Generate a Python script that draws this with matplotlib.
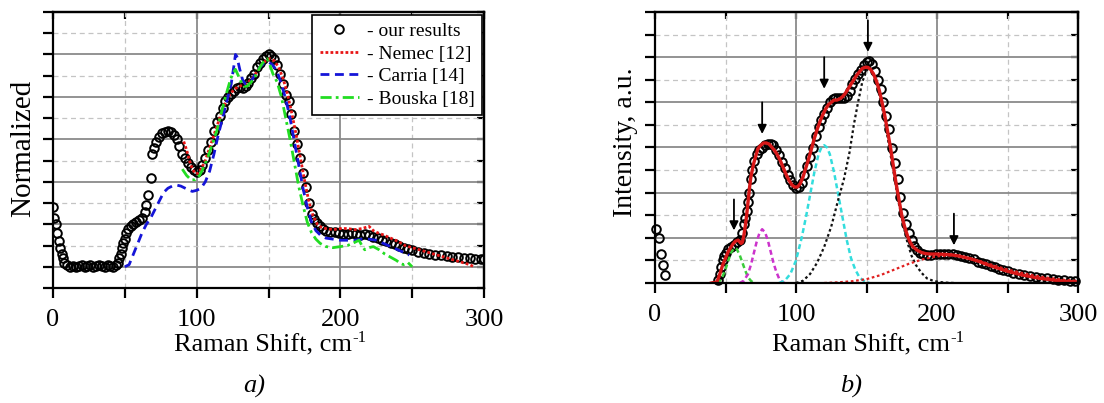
import matplotlib
matplotlib.use("Agg")
import matplotlib.pyplot as plt
from matplotlib.ticker import MultipleLocator

plt.rcParams['font.family'] = ['Liberation Serif', 'DejaVu Serif']

# ---------------- panel a) data ----------------
ours_a_x = [0, 1, 2, 3, 4, 5, 6, 7, 8, 10, 12, 14, 16, 18, 20, 22, 24, 26, 28, 30, 32, 34, 36, 38, 40, 42, 44,
            45, 46, 47, 48, 49, 50, 51, 52, 54, 56, 58, 60, 62, 64, 65, 66, 68, 69, 70, 72, 74, 76, 78, 80,
            82, 84, 86, 88, 90, 92, 94, 96, 98, 100, 102, 104, 106, 108, 110, 112, 114, 116, 118, 120, 122,
            124, 126, 128, 130, 132, 134, 136, 138, 140, 142, 144, 146, 148, 150, 152, 154, 156, 158, 160,
            162, 164, 166, 168, 170, 172, 174, 176, 178, 180, 182, 184, 186, 188, 190, 193, 196, 199, 202,
            205, 208, 211, 214, 217, 220, 223, 226, 229, 232, 235, 238, 241, 244, 247, 250, 254, 258, 262,
            266, 270, 274, 278, 282, 286, 290, 294, 298, 300]
ours_a_y = [0.28, 0.23, 0.20, 0.16, 0.12, 0.09, 0.06, 0.04, 0.02, 0.01, 0.0, 0.005, 0.0, 0.005, 0.01, 0.0,
            0.005, 0.01, 0.0, 0.005, 0.01, 0.005, 0.0, 0.01, 0.005, 0.0, 0.01,
            0.02, 0.04, 0.06, 0.09, 0.11, 0.13, 0.16, 0.18, 0.19, 0.20, 0.21, 0.22, 0.23, 0.26, 0.29, 0.34,
            0.42, 0.53, 0.56, 0.59, 0.61, 0.63, 0.635, 0.64,
            0.635, 0.62, 0.60, 0.57, 0.53, 0.51, 0.49, 0.47, 0.455, 0.445, 0.455, 0.48, 0.51, 0.55, 0.59,
            0.64, 0.68, 0.71, 0.75, 0.78, 0.80,
            0.815, 0.83, 0.84, 0.845, 0.84, 0.85, 0.865, 0.89, 0.91, 0.94, 0.96, 0.98, 0.995, 1.0, 0.995,
            0.98, 0.95, 0.91, 0.86,
            0.81, 0.78, 0.72, 0.64, 0.58, 0.51, 0.44, 0.375, 0.30, 0.25, 0.225, 0.205, 0.19, 0.18, 0.17,
            0.165, 0.165, 0.16, 0.155,
            0.155, 0.16, 0.155, 0.15, 0.155, 0.15, 0.14, 0.135, 0.125, 0.12, 0.11, 0.105, 0.10, 0.09, 0.085,
            0.08, 0.07, 0.065, 0.06,
            0.055, 0.055, 0.05, 0.045, 0.045, 0.04, 0.04, 0.035, 0.035, 0.035]

nemec_x = [91, 93, 95, 97, 99, 101, 103, 106, 109, 112, 115, 118, 121, 124, 127, 130, 133, 136, 139, 142,
           145, 148, 151, 154, 157, 160, 163, 166, 169, 172, 175, 178, 181, 184, 187, 190, 195, 200, 205,
           210, 215, 220, 223, 226, 230, 235, 240, 245, 250, 255, 260, 265, 270, 275, 280, 285, 290, 293]
nemec_y = [0.59, 0.55, 0.50, 0.46, 0.44, 0.44, 0.46, 0.50, 0.56, 0.62, 0.68, 0.74, 0.79, 0.82, 0.84, 0.85,
           0.86, 0.87, 0.89, 0.92, 0.95, 0.97, 0.98, 0.97, 0.94, 0.89, 0.82, 0.73, 0.63, 0.52, 0.41, 0.31,
           0.24, 0.20, 0.185, 0.18, 0.175, 0.18, 0.18, 0.175, 0.18, 0.19, 0.17, 0.16, 0.15, 0.135, 0.12,
           0.10, 0.09, 0.08, 0.07, 0.06, 0.05, 0.04, 0.03, 0.02, 0.01, 0.0]

carria_x = [50, 53, 56, 59, 62, 65, 68, 71, 74, 77, 80, 83, 86, 89, 92, 95, 97, 100, 103, 106, 109, 112,
            115, 118, 121, 124, 126, 127, 128, 130, 132, 134, 136, 138, 141, 144, 147, 150, 153, 156, 159,
            162, 165, 168, 171, 174, 177, 180, 183, 186, 190, 195, 200, 205, 210, 215, 220, 225, 230, 235,
            240, 245, 248]
carria_y = [0.0, 0.01, 0.06, 0.11, 0.16, 0.20, 0.23, 0.27, 0.31, 0.35, 0.37, 0.38, 0.385, 0.38, 0.37, 0.36,
            0.355, 0.36, 0.37, 0.40, 0.45, 0.53, 0.62, 0.70, 0.78, 0.86, 0.95, 1.0, 0.99, 0.93, 0.88, 0.86,
            0.86, 0.875, 0.91, 0.94, 0.96, 0.965, 0.95, 0.92, 0.86, 0.79, 0.70, 0.59, 0.48, 0.37, 0.28, 0.21,
            0.17, 0.15, 0.135, 0.13, 0.125, 0.125, 0.125, 0.13, 0.13, 0.125, 0.11, 0.095, 0.08, 0.065, 0.055]

bouska_x = [90, 93, 96, 99, 102, 105, 108, 111, 114, 117, 120, 123, 125, 127, 129, 131, 133, 135, 138, 141,
            144, 147, 149, 151, 153, 156, 159, 162, 165, 168, 171, 174, 177, 180, 183, 186, 190, 195, 200,
            205, 210, 213, 215, 217, 220, 223, 227, 231, 235, 239, 242, 244, 247, 250]
bouska_y = [0.46, 0.43, 0.41, 0.41, 0.43, 0.47, 0.52, 0.58, 0.64, 0.72, 0.80, 0.87, 0.91, 0.93, 0.90, 0.87,
            0.85, 0.85, 0.87, 0.90, 0.94, 0.97, 0.98, 0.95, 0.91, 0.87, 0.80, 0.70, 0.60, 0.49, 0.38, 0.29,
            0.21, 0.16, 0.13, 0.11, 0.095, 0.09, 0.095, 0.10, 0.115, 0.125, 0.10, 0.08, 0.09, 0.095, 0.08,
            0.06, 0.045, 0.03, 0.015, 0.01, 0.02, 0.0]

legend_labels = ['- our results', '- Nemec [12]', '- Carria [14]', '- Bouska [18]']

# ---------------- panel b) data ----------------
ours_b_x = [1, 2.5, 4, 5.5, 7,
            45, 46, 47, 48, 49, 50, 52, 54, 56, 58, 60, 62, 63, 64, 65, 66, 67, 68, 69, 70, 72, 74, 76, 78,
            80, 82, 84, 86, 88, 90, 92, 94, 96, 98, 100, 102, 104, 106, 108, 110, 112, 114, 116, 118, 120,
            122, 124, 126, 128, 130, 132, 134, 136, 138, 140, 142, 144, 146, 148, 150, 152, 154, 156, 158,
            160, 162, 164, 166, 168, 170, 172, 174, 176, 178, 180, 182, 184, 186, 188, 190, 193, 196, 199,
            202, 205, 208, 211, 214, 217, 220, 223, 226, 229, 232, 235, 238, 241, 244, 247, 250, 254, 258,
            262, 266, 270, 274, 278, 282, 286, 290, 294, 298]
ours_b_y = [0.24, 0.20, 0.13, 0.08, 0.035,
            0.015, 0.04, 0.07, 0.10, 0.12, 0.135, 0.15, 0.16, 0.17, 0.18, 0.19, 0.22, 0.26, 0.29, 0.32,
            0.36, 0.40, 0.46, 0.50, 0.54, 0.57, 0.59, 0.60, 0.61,
            0.615, 0.615, 0.61, 0.59, 0.565, 0.535, 0.51, 0.48, 0.455, 0.435, 0.42, 0.425, 0.445, 0.48,
            0.52, 0.56, 0.60, 0.65, 0.69, 0.72, 0.75,
            0.775, 0.80, 0.815, 0.82, 0.82, 0.82, 0.82, 0.83, 0.85, 0.88, 0.905, 0.925, 0.945, 0.965, 0.98,
            0.985, 0.97, 0.94, 0.90,
            0.86, 0.80, 0.74, 0.68, 0.60, 0.53, 0.46, 0.38, 0.31, 0.26, 0.22, 0.19, 0.165, 0.145, 0.135,
            0.128, 0.124, 0.125, 0.128,
            0.13, 0.13, 0.13, 0.128, 0.125, 0.12, 0.115, 0.11, 0.105, 0.095, 0.09, 0.082, 0.076, 0.07,
            0.064, 0.058, 0.053, 0.046, 0.04,
            0.035, 0.03, 0.027, 0.024, 0.02, 0.016, 0.013, 0.012, 0.008, 0.007]

fit_x = [40, 44, 46, 48, 50, 52, 55, 57, 59, 61, 62, 63, 64, 65, 66, 67, 68, 70, 73, 75, 77, 79, 81, 83,
         85, 87, 89, 91, 93, 95, 97, 99, 101, 103, 105, 107, 109, 111, 113, 115, 117, 119, 121, 123, 125,
         127, 129, 131, 133, 135, 137, 139, 141, 143, 145, 147, 149, 151, 153, 155, 157, 159, 161, 163,
         165, 167, 169, 171, 173, 175, 177, 179, 181, 183, 186, 189, 192, 196, 200, 205, 210, 215, 220,
         225, 230, 235, 240, 245, 250, 255, 260, 265, 270, 275, 280, 285, 290, 295, 300]
fit_y = [0.0, 0.005, 0.04, 0.08, 0.11, 0.14, 0.17, 0.185, 0.19, 0.175, 0.18, 0.21, 0.25, 0.30, 0.36, 0.42,
         0.47, 0.53, 0.595, 0.61, 0.62, 0.62, 0.615, 0.60, 0.585, 0.565, 0.54, 0.51, 0.48, 0.455, 0.435,
         0.425, 0.425, 0.44, 0.47, 0.51, 0.55, 0.595, 0.64, 0.68, 0.715, 0.745, 0.77, 0.79, 0.80, 0.81,
         0.81, 0.815, 0.825, 0.84, 0.86, 0.88, 0.90, 0.92, 0.935, 0.95, 0.955, 0.955, 0.945, 0.925, 0.895,
         0.855, 0.80, 0.74, 0.67, 0.60, 0.52, 0.44, 0.37, 0.30, 0.25, 0.21, 0.18, 0.16, 0.145, 0.135, 0.13,
         0.128, 0.128, 0.127, 0.125, 0.12, 0.113, 0.105, 0.095, 0.083, 0.072, 0.062, 0.052, 0.044, 0.036,
         0.03, 0.024, 0.019, 0.015, 0.011, 0.008, 0.006, 0.005]

comp_green_x = [44, 46, 48, 50, 52, 54, 56, 57, 58, 60, 62, 64, 66, 68, 70]
comp_green_y = [0.0, 0.01, 0.03, 0.06, 0.10, 0.135, 0.153, 0.155, 0.15, 0.125, 0.09, 0.055, 0.025, 0.01, 0.0]

comp_magenta_x = [60, 63, 66, 68, 70, 72, 74, 76, 78, 80, 82, 84, 86, 88, 90, 92]
comp_magenta_y = [0.0, 0.01, 0.04, 0.08, 0.13, 0.18, 0.22, 0.238, 0.225, 0.19, 0.14, 0.09, 0.05, 0.02,
                  0.005, 0.0]

comp_cyan_x = [88, 92, 96, 100, 104, 107, 110, 113, 116, 118, 120, 122, 124, 127, 130, 133, 136, 139, 142,
               145, 148, 152]
comp_cyan_y = [0.0, 0.01, 0.04, 0.10, 0.20, 0.29, 0.39, 0.49, 0.57, 0.60, 0.61, 0.60, 0.57, 0.49, 0.39,
               0.29, 0.19, 0.11, 0.06, 0.025, 0.01, 0.0]

comp_black_x = [100, 105, 110, 115, 120, 125, 130, 134, 138, 141, 144, 147, 150, 152, 154, 156, 158, 161,
                164, 167, 170, 173, 176, 179, 182, 185, 189, 193, 198, 205, 212]
comp_black_y = [0.0, 0.01, 0.04, 0.09, 0.16, 0.25, 0.37, 0.46, 0.58, 0.70, 0.80, 0.89, 0.94, 0.955, 0.94,
                0.91, 0.86, 0.78, 0.68, 0.57, 0.46, 0.35, 0.26, 0.18, 0.12, 0.08, 0.045, 0.02, 0.008,
                0.002, 0.0]

comp_red_x = [120, 130, 140, 150, 160, 170, 180, 190, 200, 210, 215, 220, 230, 240, 250, 260, 270, 280,
              290, 300]
comp_red_y = [0.0, 0.003, 0.008, 0.017, 0.035, 0.06, 0.085, 0.105, 0.118, 0.123, 0.122, 0.115, 0.098,
              0.078, 0.06, 0.045, 0.032, 0.022, 0.014, 0.009]

arrow_x = [56, 76, 120, 151, 212]
arrow_top = [0.37, 0.80, 1.00, 1.163, 0.307]
arrow_tip = [0.233, 0.66, 0.86, 1.023, 0.167]

x_ticks = [0, 100, 200, 300]
x_ticklabels = ['0', '100', '200', '300']

# ---------------- figure ----------------
W, H = 1104, 403
fig = plt.figure(figsize=(W / 100, H / 100), dpi=100)

def px_axes(x0, x1, ytop, ybot):
    return fig.add_axes([x0 / W, (H - ybot) / H, (x1 - x0) / W, (ybot - ytop) / H])

axa = px_axes(53, 484, 12, 288)
axb = px_axes(655, 1078, 12, 283)

def style(ax, ylo):
    ax.set_xlim(0, 300)
    ax.set_ylim(ylo, 1.2)
    ax.xaxis.set_major_locator(MultipleLocator(100))
    ax.xaxis.set_minor_locator(MultipleLocator(50))
    ax.yaxis.set_major_locator(MultipleLocator(0.2))
    ax.yaxis.set_minor_locator(MultipleLocator(0.1))
    ax.set_xticks(x_ticks)
    ax.set_xticklabels(x_ticklabels)
    ax.set_yticklabels([])
    ax.grid(True, which='major', color='#8a8a8a', lw=1.3, ls='-')
    ax.grid(True, which='minor', color='#c4c4c4', lw=0.9, ls=(0, (4, 3)))
    ax.set_axisbelow(True)
    for s in ax.spines.values():
        s.set_linewidth(1.6)
        s.set_zorder(5)
    ax.tick_params(axis='both', which='both', direction='out', length=7, width=1.6,
                   labelsize=19, pad=8)
    ax.tick_params(axis='x', which='both', top=False)
    ax.tick_params(axis='y', which='both', right=False)
    # inward ticks on the top and right sides
    sx = ax.secondary_xaxis('top')
    sx.xaxis.set_major_locator(MultipleLocator(50))
    sx.tick_params(axis='x', which='major', direction='in', length=5, width=1.6, labeltop=False)
    sx.tick_params(axis='x', which='minor', length=0)
    sx.spines['top'].set_linewidth(1.6)
    sy = ax.secondary_yaxis('right')
    sy.yaxis.set_major_locator(MultipleLocator(0.1))
    sy.tick_params(axis='y', which='major', direction='in', length=5, width=1.6, labelright=False)
    sy.tick_params(axis='y', which='minor', length=0)
    sy.spines['right'].set_linewidth(1.6)

style(axa, -0.1)
style(axb, 0.0)

# panel a curves
axa.plot(ours_a_x, ours_a_y, 'o', mfc='none', mec='black', ms=6.2, mew=1.4, zorder=3,
         label=legend_labels[0])
axa.plot(nemec_x, nemec_y, color='#e81515', lw=2.0, ls=(0, (1, 0.8)), zorder=4, label=legend_labels[1])
axa.plot(carria_x, carria_y, color='#1515d8', lw=2.0, ls=(0, (3.2, 2)), zorder=4, label=legend_labels[2])
axa.plot(bouska_x, bouska_y, color='#22dd22', lw=2.0, ls=(0, (4, 1.5, 1, 1.5)), zorder=4,
         label=legend_labels[3])
leg = axa.legend(loc='upper right', bbox_to_anchor=(0.996, 0.99), fontsize=14, frameon=True,
                 fancybox=False, edgecolor='black', framealpha=1, numpoints=1, handlelength=2.0,
                 handletextpad=0.4, labelspacing=0.25, borderpad=0.4, borderaxespad=0.0)
leg.get_frame().set_linewidth(1.2)
leg.set_zorder(10)

# panel b curves
axb.plot(ours_b_x, ours_b_y, 'o', mfc='none', mec='black', ms=6.2, mew=1.4, zorder=3, clip_on=False)
axb.plot(comp_green_x, comp_green_y, color='#3ccc3c', lw=1.8, ls=(0, (2, 1.3)), zorder=4)
axb.plot(comp_magenta_x, comp_magenta_y, color='#cc33cc', lw=1.8, ls=(0, (2, 1.3)), zorder=4)
axb.plot(comp_cyan_x, comp_cyan_y, color='#33dddd', lw=1.8, ls=(0, (2, 1.3)), zorder=4)
axb.plot(comp_black_x, comp_black_y, color='#111111', lw=1.6, ls=(0, (1.2, 1.2)), zorder=4)
axb.plot(comp_red_x, comp_red_y, color='#e02020', lw=1.6, ls=(0, (1.2, 1.2)), zorder=4)
axb.plot(fit_x, fit_y, color='#d81818', lw=2.4, zorder=4.5)
for xa, yt, yb in zip(arrow_x, arrow_top, arrow_tip):
    axb.annotate('', xy=(xa, yb), xytext=(xa, yt),
                 arrowprops=dict(arrowstyle='-|>', color='black', lw=1.3, mutation_scale=13,
                                 shrinkA=0, shrinkB=0), zorder=6)

# labels
renderer = fig.canvas.get_renderer()

def xlabel(cx_px):
    t = fig.text((cx_px - 6) / W, (H - 351) / H, 'Raman Shift, cm', ha='center', va='baseline',
                 fontsize=19)
    bb = t.get_window_extent(renderer)
    fig.text((bb.x1 + 1) / W, (bb.y1 + 4) / H, '-1', ha='left', va='top', fontsize=12)

xlabel((53 + 484) / 2)
xlabel((655 + 1078) / 2)
fig.text(23 / W, (H - 148) / H, 'Normalized', rotation=90, ha='center', va='center', fontsize=21)
fig.text(626 / W, (H - 142) / H, 'Intensity, a.u.', rotation=90, ha='center', va='center', fontsize=20)
fig.text(254 / W, (H - 386) / H, 'a)', ha='center', va='center', fontsize=19, style='italic')
fig.text(851 / W, (H - 386) / H, 'b)', ha='center', va='center', fontsize=19, style='italic')

fig.savefig('out.png', dpi=100)
